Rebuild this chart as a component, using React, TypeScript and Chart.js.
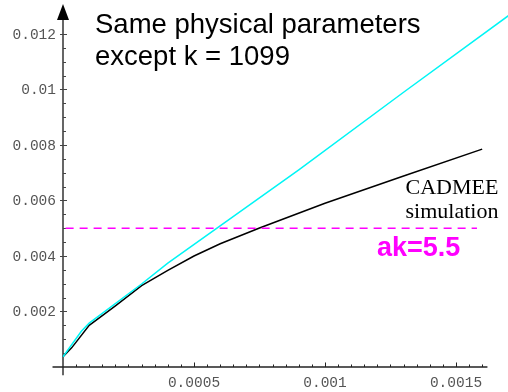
import React, { useEffect, useRef } from "react";
import { Chart, registerables } from "chart.js";

Chart.register(...registerables);

// ---- data ----
const blackX = [0, 0.000033, 0.0001, 0.0002, 0.0003, 0.0004, 0.0005, 0.0006, 0.00075, 0.001, 0.0013, 0.0016];
const blackY = [0.00037, 0.00069, 0.0015, 0.0022, 0.00293, 0.00348, 0.004, 0.00444, 0.00501, 0.0059, 0.00688, 0.00785];
const cyanX = [0, 0.00007, 0.0001, 0.0003, 0.0004, 0.0009, 0.0013, 0.0017];
const cyanY = [0.00037, 0.00129, 0.00158, 0.00299, 0.00374, 0.0071, 0.0099, 0.01266];
const refLevel = 0.005;
const refXStart = 0.00001;
const refXEnd = 0.00158;

const xMajorTicks = [0.0005, 0.001, 0.0015];
const xMajorLabels = ["0.0005", "0.001", "0.0015"];
const xMinorStep = 0.00005;
const xMinorMax = 0.0016;
const yMajorTicks = [0.002, 0.004, 0.006, 0.008, 0.01, 0.012];
const yMajorLabels = ["0.002", "0.004", "0.006", "0.008", "0.01", "0.012"];
const yMinorStep = 0.0005;
const yMinorMax = 0.012;

const titleLines = ["Same physical parameters", "except k = 1099"];
const simLines = ["CADMEE", "simulation"];
const akLabel = "ak=5.5";

// axis ranges
const X_MIN = -0.00024046;
const X_MAX = 0.0016985;
const Y_MIN = -0.000901;
const Y_MAX = 0.013225;
const X_AXIS_FROM = -0.00004;
const X_AXIS_TO = 0.00162;
const Y_AXIS_FROM = -0.0003;
const Y_AXIS_TO = 0.01308;

const zip = (xs: number[], ys: number[]) => xs.map((x, i) => ({ x, y: ys[i] }));

const axesPlugin = {
  id: "mathAxes",
  beforeDatasetsDraw(chart: any) {
    const ctx = chart.ctx;
    const xs = chart.scales.x;
    const ys = chart.scales.y;
    const x0 = xs.getPixelForValue(0);
    const y0 = ys.getPixelForValue(0);
    ctx.save();
    // y axis
    ctx.strokeStyle = "#666";
    ctx.lineWidth = 2;
    ctx.beginPath();
    ctx.moveTo(x0, ys.getPixelForValue(Y_AXIS_FROM));
    ctx.lineTo(x0, ys.getPixelForValue(Y_AXIS_TO) + 12);
    ctx.stroke();
    // arrow
    const tip = ys.getPixelForValue(Y_AXIS_TO);
    ctx.fillStyle = "#000";
    ctx.beginPath();
    ctx.moveTo(x0, tip);
    ctx.lineTo(x0 - 6, tip + 16);
    ctx.lineTo(x0 + 6, tip + 16);
    ctx.closePath();
    ctx.fill();
    // x axis
    ctx.strokeStyle = "#222";
    ctx.lineWidth = 1.5;
    ctx.beginPath();
    ctx.moveTo(xs.getPixelForValue(X_AXIS_FROM), y0);
    ctx.lineTo(xs.getPixelForValue(X_AXIS_TO), y0);
    ctx.stroke();
    // x ticks
    ctx.lineWidth = 1;
    ctx.strokeStyle = "#222";
    const nx = Math.round(xMinorMax / xMinorStep);
    for (let i = 1; i <= nx; i++) {
      const v = i * xMinorStep;
      const major = i % 10 === 0;
      const px = Math.round(xs.getPixelForValue(v)) + 0.5;
      ctx.beginPath();
      ctx.moveTo(px, y0);
      ctx.lineTo(px, y0 - (major ? 4.5 : 2.5));
      ctx.stroke();
    }
    // y ticks
    ctx.strokeStyle = "#444";
    const ny = Math.round(yMinorMax / yMinorStep);
    for (let i = 1; i <= ny; i++) {
      const v = i * yMinorStep;
      const major = i % 4 === 0;
      const py = Math.round(ys.getPixelForValue(v)) + 0.5;
      ctx.beginPath();
      ctx.moveTo(x0 - (major ? 3 : 0), py);
      ctx.lineTo(x0 + (major ? 4 : 3), py);
      ctx.stroke();
    }
    // tick labels
    ctx.fillStyle = "#555";
    ctx.font = "14.5px 'Liberation Mono', monospace";
    ctx.textAlign = "right";
    ctx.textBaseline = "middle";
    yMajorTicks.forEach((v, i) => {
      ctx.fillText(yMajorLabels[i], x0 - 7, ys.getPixelForValue(v) + 1);
    });
    ctx.textAlign = "center";
    ctx.textBaseline = "alphabetic";
    xMajorTicks.forEach((v, i) => {
      ctx.fillText(xMajorLabels[i], xs.getPixelForValue(v), y0 + 20);
    });
    ctx.restore();
  },
  afterDatasetsDraw(chart: any) {
    const ctx = chart.ctx;
    ctx.save();
    ctx.fillStyle = "#000";
    ctx.textAlign = "left";
    ctx.textBaseline = "alphabetic";
    ctx.font = "27.5px 'Liberation Sans', Arial, sans-serif";
    ctx.fillText(titleLines[0], 95, 33);
    ctx.fillText(titleLines[1], 95, 65);
    ctx.font = "22px 'Liberation Serif', 'Times New Roman', serif";
    ctx.textAlign = "center";
    ctx.fillText(simLines[0], 452, 194);
    ctx.fillText(simLines[1], 452, 218);
    ctx.fillStyle = "#ff00ff";
    ctx.textAlign = "left";
    ctx.font = "bold 27px 'Liberation Sans', Arial, sans-serif";
    ctx.fillText(akLabel, 377, 256);
    ctx.restore();
  },
};

export default function App() {
  const ref = useRef<HTMLCanvasElement | null>(null);
  useEffect(() => {
    if (!ref.current) return;
    const chart = new Chart(ref.current, {
      type: "scatter",
      data: {
        datasets: [
          {
            data: zip([refXStart, refXEnd], [refLevel, refLevel]),
            showLine: true,
            borderColor: "#ff00ff",
            borderWidth: 1.5,
            borderDash: [8, 6],
            pointRadius: 0,
          },
          {
            data: zip(cyanX, cyanY),
            showLine: true,
            borderColor: "#00f5f5",
            borderWidth: 1.5,
            pointRadius: 0,
          },
          {
            data: zip(blackX, blackY),
            showLine: true,
            borderColor: "#000",
            borderWidth: 1.5,
            pointRadius: 0,
          },
        ],
      },
      options: {
        responsive: false,
        animation: false,
        layout: { padding: 0 },
        plugins: { legend: { display: false }, tooltip: { enabled: false } },
        scales: {
          x: { type: "linear", min: X_MIN, max: X_MAX, display: false },
          y: { type: "linear", min: Y_MIN, max: Y_MAX, display: false },
        },
      },
      plugins: [axesPlugin],
    });
    return () => chart.destroy();
  }, []);
  return (
    <div style={{ position: "fixed", left: 0, top: 0, width: 508, height: 392, background: "#fff" }}>
      <canvas ref={ref} width={508} height={392} />
    </div>
  );
}
